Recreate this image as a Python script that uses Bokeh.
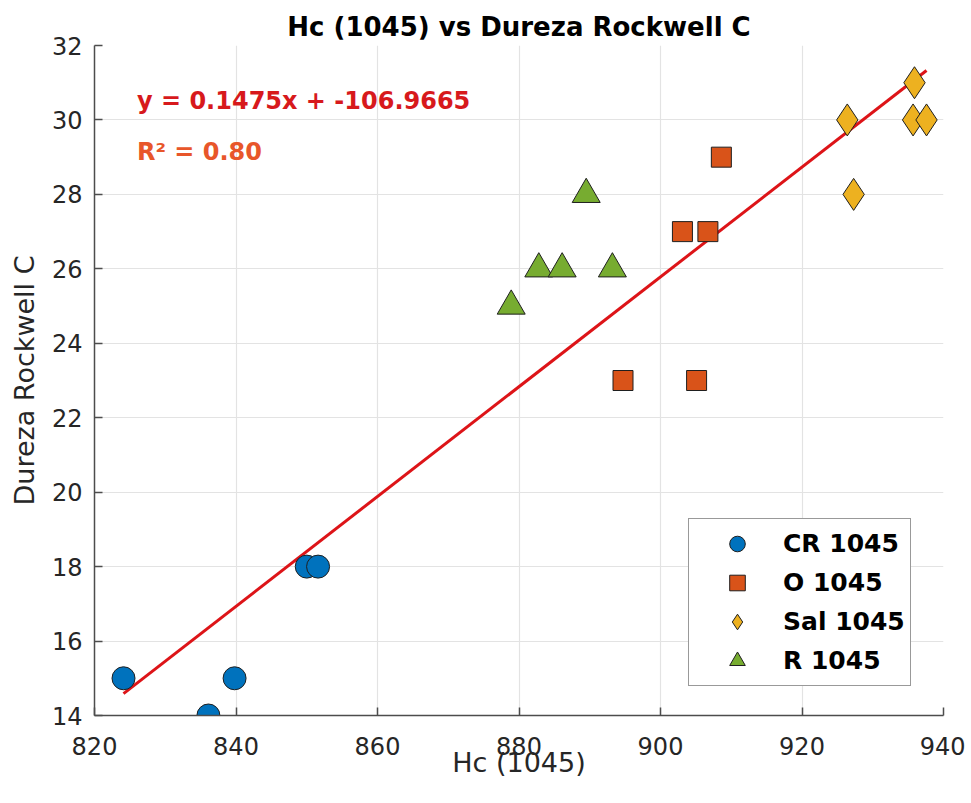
from bokeh.plotting import figure
from bokeh.models import Range1d, FixedTicker, Label, Legend, LegendItem
from bokeh.embed import file_html
from bokeh.resources import INLINE

# ---- data ----
cr_x = [824.1, 836.1, 839.8, 850.0, 851.6]
cr_y = [15, 14, 15, 18, 18]
o_x = [894.7, 903.1, 905.1, 906.7, 908.6]
o_y = [23, 27, 23, 27, 29]
sal_x = [926.4, 927.3, 935.7, 935.9, 937.6]
sal_y = [30, 28, 30, 31, 30]
r_x = [878.9, 882.8, 886.1, 889.5, 893.2]
r_y = [25, 26, 26, 28, 26]

series_names = ["CR 1045", "O 1045", "Sal 1045", "R 1045"]
slope = 0.1475
intercept = -106.9665
r2 = 0.80

x_ticks = [820, 840, 860, 880, 900, 920, 940]
y_ticks = [14, 16, 18, 20, 22, 24, 26, 28, 30, 32]

FONT = "DejaVu Sans"
AX = "#262626"

p = figure(width=965, height=795, output_backend="svg", toolbar_location=None,
           x_range=Range1d(820, 940), y_range=Range1d(14, 32),
           min_border_left=94, min_border_right=22, min_border_top=45, min_border_bottom=80,
           title="Hc (1045) vs Dureza Rockwell C")
p.outline_line_color = None
p.background_fill_color = "white"
p.border_fill_color = "white"

p.title.align = "center"
p.title.text_font = FONT
p.title.text_font_size = "26px"
p.title.text_font_style = "bold"
p.title.text_color = "#000000"
p.title.standoff = 8

p.xaxis.ticker = FixedTicker(ticks=x_ticks)
p.yaxis.ticker = FixedTicker(ticks=y_ticks)
for ax in (p.xaxis[0], p.yaxis[0]):
    ax.axis_line_color = "#4d4d4d"
    ax.axis_line_width = 1.5
    ax.major_tick_line_color = "#4d4d4d"
    ax.major_tick_line_width = 1.5
    ax.major_tick_in = 8
    ax.major_tick_out = 0
    ax.minor_tick_line_color = None
    ax.major_label_text_font = FONT
    ax.major_label_text_font_size = "24px"
    ax.major_label_text_color = AX
    ax.axis_label_text_font = FONT
    ax.axis_label_text_font_size = "27px"
    ax.axis_label_text_font_style = "normal"
    ax.axis_label_text_color = AX

p.xaxis.axis_label = "Hc (1045)"
p.yaxis.axis_label = "Dureza Rockwell C"
p.xaxis.major_label_standoff = 21
p.xaxis.axis_label_standoff = -11
p.yaxis.major_label_standoff = 12
p.yaxis.axis_label_standoff = 9

p.xgrid.ticker = FixedTicker(ticks=x_ticks)
p.ygrid.ticker = FixedTicker(ticks=y_ticks)
p.grid.grid_line_color = "#e3e3e3"
p.grid.grid_line_width = 1.2

# regression line (under markers)
all_x = cr_x + o_x + sal_x + r_x
lx = [min(all_x), max(all_x)]
ly = [slope * v + intercept for v in lx]
p.line(lx, ly, line_color="#DD1418", line_width=3)

edge = "#1f1f1f"
r_cr = p.scatter(cr_x, cr_y, marker="circle", size=23, fill_color="#0072BD", line_color=edge, line_width=1)
r_o = p.scatter(o_x, o_y, marker="square", size=20, fill_color="#D95319", line_color=edge, line_width=1)
r_sal = p.scatter(sal_x, sal_y, marker="diamond", size=32, fill_color="#EDB120", line_color=edge, line_width=1)
r_r = p.scatter(r_x, r_y, marker="triangle", size=28, fill_color="#77AC30", line_color=edge, line_width=1)

legend = Legend(items=[LegendItem(label=n, renderers=[r]) for n, r in
                       zip(series_names, [r_cr, r_o, r_sal, r_r])],
                location=(594, 29))
legend.label_text_font = FONT
legend.label_text_font_size = "25px"
legend.label_text_font_style = "bold"
legend.label_text_color = "#000000"
legend.border_line_color = "#333333"
legend.border_line_width = 1.5
legend.background_fill_color = "white"
legend.background_fill_alpha = 1.0
legend.glyph_width = 86
legend.glyph_height = 39
legend.label_height = 39
legend.label_standoff = 3
legend.spacing = 0
legend.padding = 5
legend.margin = 0
p.add_layout(legend, "center")

eq = Label(x=826.0, y=30.52, text=f"y = {slope}x + {intercept}", text_font=FONT,
           text_font_size="24px", text_font_style="bold", text_color="#D7191C",
           text_align="left", text_baseline="middle")
rr = Label(x=826.0, y=29.13, text=f"R\u00b2 = {r2:.2f}", text_font=FONT,
           text_font_size="24px", text_font_style="bold", text_color="#E8562A",
           text_align="left", text_baseline="middle")
p.add_layout(eq)
p.add_layout(rr)

open("out.html", "w").write(file_html(p, INLINE))
